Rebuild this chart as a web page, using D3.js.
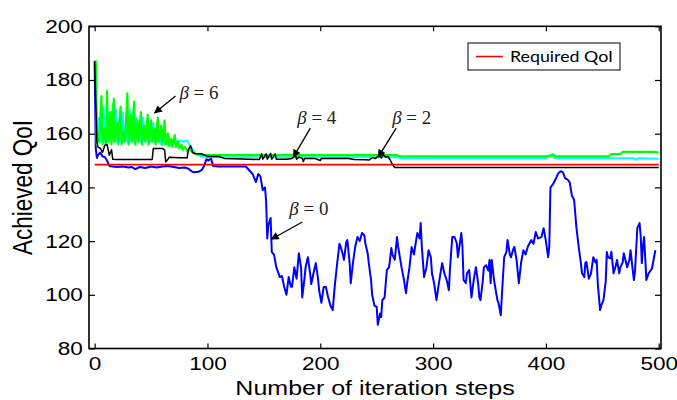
<!DOCTYPE html>
<html>
<head>
<meta charset="utf-8">
<script src="https://cdn.jsdelivr.net/npm/d3@7"></script>
<style>
body { margin: 0; background: #fff; }
</style>
</head>
<body>
<div id="chart"></div>
<script>
const xTicks = [0, 100, 200, 300, 400, 500];
const yTicks = [80, 100, 120, 140, 160, 180, 200];

// [iteration step, achieved QoI]
const requiredQoI = [[0, 148.5], [500, 148.5]];

const beta0 = [[0,187],[1,154.5],[2,151],[3,152],[5,153],[7,151.5],[9,151.3],[11,150],[13,148],[16,147.8],[20,147.6],[25,147.8],[30,147.4],[33,147.6],[36,146.8],[40,147.6],[45,147.2],[50,147.8],[55,147.4],[60,147.8],[65,148],[70,147.6],[75,147.2],[80,147.4],[83,147],[86,146],[88,145.6],[92,145.8],[95,146.5],[97,148],[99,150.5],[101,150],[103,151],[105,148],[110,147.8],[120,147.8],[130,147.8],[134,147.8],[137,146.4],[140,145],[143,142],[145,145],[147,144],[149,139],[151,140],[152,135],[153,121],[154,126],[156,128.6],[157,116],[159,115],[161,110.3],[163,108],[164,106.6],[166,107],[168,103],[170,100],[172,106.6],[174,103],[175,103],[177,110.3],[179,106],[181,115.5],[183,110],[184,99],[186,106],[187,110.3],[189,114],[191,108],[192,104],[194,108],[196,111.8],[198,106],[199,101.7],[201,97],[203,102.9],[205,102.9],[207,99],[209,96],[211,94.3],[213,104],[215,111.8],[217,119],[218,118],[220,115],[221,113],[223,119.6],[224,120.4],[226,112],[227,104.3],[229,112],[231,118],[233,121.5],[235,120],[237,123],[239,122.2],[240,119],[242,115.5],[243,111.8],[245,105.5],[246,99.9],[248,96],[250,95.5],[251,88.8],[253,93],[254,91.7],[255,98],[257,99],[259,109.2],[261,110.3],[263,117.4],[264,115],[266,113],[268,121.5],[269,118],[272,110.3],[274,106],[276,100.6],[277,104.3],[279,110],[281,117.8],[283,115],[286,123],[288,121],[289,126.7],[290,118],[292,106.6],[294,110],[296,116.6],[298,114],[299,108],[301,104],[303,98],[305,104],[308,111.8],[310,108],[312,105.5],[314,101.7],[315,110],[317,121.5],[319,121.5],[321,119.2],[322,114],[325,123],[326,118],[327,105.5],[329,104.3],[330,108],[332,109.2],[334,99],[336,105.5],[338,110.3],[340,104],[341,99],[342,98],[344,105],[345,110.3],[347,111],[349,109],[350,113],[351,104.3],[352,113],[354,105.5],[357,98],[358,97],[360,92.4],[361,100],[363,114],[365,116],[366,120.4],[368,115],[369,114],[371,117],[372,117.8],[374,113],[376,104.3],[378,112],[380,116.6],[382,115],[384,118],[387,120.4],[389,119],[391,123.4],[393,121],[396,121.5],[398,124.8],[400,120],[402,114],[403,118],[404,140],[406,141],[409,143.4],[411,145.3],[413,146],[415,145.7],[417,143.4],[419,143],[421,142],[423,137],[425,135.3],[427,125.2],[429,118],[431,111.8],[432,108],[434,106.6],[435,112],[436,112.2],[438,106],[440,108],[442,114],[444,112],[445,113],[446,104],[448,94.3],[449,96],[451,98],[453,105],[454,115.9],[455,114],[457,113.6],[458,116],[460,108],[462,111],[463,113],[465,108],[466,110.3],[468,112],[469,115.5],[471,112],[472,110.3],[474,113],[475,116.6],[477,109],[478,105.5],[479,109],[481,124.8],[483,126.7],[484,122],[485,111.8],[486,118],[487,121.5],[488,114],[489,105.5],[491,108],[493,109.2],[494,109.8],[497,116.6]];

const beta2 = [[0,187],[2,157],[3,155],[5,154.6],[7,153],[9,155.7],[11,156],[13,152],[15,154],[16,150.5],[20,150.4],[30,150.4],[40,150.4],[51,150.4],[52,154.5],[60,154.5],[62,154],[63,149.5],[65,150.5],[66,151.2],[75,151],[82,151],[83,154],[85,155.5],[87,153],[89,152.5],[95,152.5],[98,152],[100,151.5],[110,151.5],[115,150.8],[130,150.6],[146,150.4],[148,152.5],[149,150.5],[152,152.5],[153,150.5],[156,152.7],[157,150.5],[160,152.5],[161,150.5],[170,150.5],[175,150.8],[178,152],[179,150.5],[181,151.3],[184,150.8],[185,149.6],[186,150.8],[195,150.8],[200,150],[201,150.8],[225,150.8],[230,150.4],[240,150.3],[243,150.2],[246,151],[249,150.8],[252,152],[254,151],[256,152.2],[258,151.3],[260,151.5],[262,150.2],[264,148.5],[266,147.4],[500,147.4]];

const beta4 = [[0,187],[1,186],[2,157],[4,166],[5,157],[8,170],[9,157],[13,168],[14,157],[16,171],[17,157],[19,169],[20,157],[22,166],[23,157],[25,168],[26,157],[28,165],[29,157],[31,169],[32,157],[34,168],[35,157],[37,166],[38,157],[40,163],[41,157],[43,166],[44,157],[46,163],[47,157],[49,162],[50,157],[52,164],[53,157],[55,160],[56,157],[58,161],[59,156],[61,160],[62,156],[64,159],[65,156],[67,158],[68,155.5],[70,158],[73,157],[76,157.5],[79,157],[82,157.5],[84,156],[87,154],[90,152.5],[95,151.5],[100,151.2],[268,151.2],[272,150.9],[400,150.9],[403,152],[406,152.3],[408,150.9],[478,150.9],[480,150.2],[482,150.9],[500,150.7]];

const beta6 = [[0,187],[1,187],[2,156],[3,160],[4,157],[6,174],[7,156],[9,162],[10,156],[11,176],[12,157],[14,168],[15,156],[17,173],[18,157],[20,164],[21,156],[23,170],[24,156],[26,161],[27,157],[29,175],[30,156],[32,167],[33,157],[35,172],[36,156],[38,165],[39,157],[41,168],[42,156],[44,163],[45,157],[47,167],[48,156],[50,165],[51,157],[53,162],[54,156],[56,166],[57,157],[59,163],[60,156],[62,165],[63,156],[65,160],[66,155.5],[68,158],[69,155],[71,159.5],[72,155],[74,157],[75,154.5],[77,156],[78,154],[80,155],[82,153.5],[84,154],[87,153],[90,152.5],[95,152],[268,152],[270,151.6],[405,151.6],[406,152.2],[409,151.6],[456,151.6],[458,152.4],[466,152.4],[468,153.2],[496,153.2],[500,153]];

// label position and arrow tail -> head, in data units
const annotations = [
  { value: '6', tx: 75.2, ty: 172.9, x0: 71.7, y0: 174.0, x1: 53.1, y1: 167.7 },
  { value: '4', tx: 179.6, ty: 163.6, x0: 191.2, y0: 162.1, x1: 176.1, y1: 151.3 },
  { value: '2', tx: 263.7, ty: 163.6, x0: 267.3, y0: 162.1, x1: 251.3, y1: 151.3 },
  { value: '0', tx: 172.6, ty: 129.7, x0: 184.1, y0: 127.1, x1: 156.6, y1: 120.7 }
];

const width = 677, height = 400;
const plotLeft = 89, plotRight = 661, plotTop = 26.3, plotBottom = 348.5;
const stretch = 'scale(1.22,1)';

const svg = d3.select('#chart').append('svg')
  .attr('width', width)
  .attr('height', height)
  .style('font-family', '"Liberation Sans", Arial, sans-serif');

let xScale = d3.scaleLinear().domain([-5, 502]).range([plotLeft, plotRight]);
let yScale = d3.scaleLinear().domain([80, 200]).range([plotBottom, plotTop]);

let line = d3.line()
  .x(d => xScale(d[0]))
  .y(d => yScale(d[1]));

svg.append('defs').append('marker')
  .attr('id', 'arrowhead')
  .attr('viewBox', '0 0 10 10')
  .attr('refX', 9)
  .attr('refY', 5)
  .attr('markerWidth', 9)
  .attr('markerHeight', 8)
  .attr('markerUnits', 'userSpaceOnUse')
  .attr('orient', 'auto')
  .append('path')
  .attr('d', 'M0,0 L10,5 L0,10 z')
  .attr('fill', '#000');

const series = [
  { data: beta0, color: '#0000ff', w: 2 },
  { data: beta4, color: '#00ffff', w: 2 },
  { data: beta6, color: '#00ff00', w: 2.2 },
  { data: beta2, color: '#000000', w: 1.5 },
  { data: requiredQoI, color: '#ff0000', w: 1.6 }
];

series.forEach(s => {
  svg.append('path')
    .datum(s.data)
    .attr('d', line)
    .attr('fill', 'none')
    .attr('stroke', s.color)
    .attr('stroke-width', s.w)
    .attr('stroke-linejoin', 'round');
});

// axes, MATLAB style ticks pointing inward
svg.append('g')
  .attr('transform', 'translate(0,' + plotBottom + ')')
  .call(d3.axisBottom(xScale).tickValues(xTicks).tickSizeInner(-5).tickSizeOuter(0).tickPadding(8));

svg.append('g')
  .attr('transform', 'translate(' + plotLeft + ',0)')
  .call(d3.axisLeft(yScale).tickValues(yTicks).tickSizeInner(-6).tickSizeOuter(0).tickPadding(5));

svg.append('g')
  .attr('transform', 'translate(0,' + plotTop + ')')
  .call(d3.axisTop(xScale).tickValues(xTicks).tickSizeInner(-5).tickSizeOuter(0).tickFormat(''));

svg.append('g')
  .attr('transform', 'translate(' + plotRight + ',0)')
  .call(d3.axisRight(yScale).tickValues(yTicks).tickSizeInner(-6).tickSizeOuter(0).tickFormat(''));

svg.selectAll('.domain').remove();

svg.selectAll('.tick line')
  .attr('stroke', '#000')
  .attr('stroke-width', 1.2);

svg.selectAll('.tick text')
  .attr('fill', '#000')
  .style('font-family', '"Liberation Sans", Arial, sans-serif')
  .style('font-size', '18.5px')
  .attr('transform', stretch);

svg.append('rect')
  .attr('x', plotLeft)
  .attr('y', plotTop)
  .attr('width', plotRight - plotLeft)
  .attr('height', plotBottom - plotTop)
  .attr('fill', 'none')
  .attr('stroke', '#000')
  .attr('stroke-width', 1.6);

// axis titles
svg.append('text')
  .attr('transform', 'translate(' + ((plotLeft + plotRight) / 2) + ',395) ' + stretch)
  .attr('text-anchor', 'middle')
  .style('font-size', '20.5px')
  .text('Number of iteration steps');

svg.append('text')
  .attr('transform', 'translate(32,' + ((plotTop + plotBottom) / 2) + ') ' + stretch + ' rotate(-90)')
  .attr('text-anchor', 'middle')
  .style('font-size', '22.5px')
  .text('Achieved QoI');

// beta annotations
annotations.forEach(a => {
  svg.append('line')
    .attr('x1', xScale(a.x0))
    .attr('y1', yScale(a.y0))
    .attr('x2', xScale(a.x1))
    .attr('y2', yScale(a.y1))
    .attr('stroke', '#000')
    .attr('stroke-width', 1.3)
    .attr('marker-end', 'url(#arrowhead)');

  let t = svg.append('text')
    .attr('x', xScale(a.tx))
    .attr('y', yScale(a.ty))
    .attr('textLength', 39)
    .attr('lengthAdjust', 'spacingAndGlyphs')
    .style('font-family', '"Liberation Serif", "Times New Roman", serif')
    .style('font-size', '18px')
    .attr('fill', '#222');
  t.append('tspan').style('font-style', 'italic').text('β');
  t.append('tspan').text(' = ' + a.value);
});

// legend
const legend = svg.append('g');
legend.append('rect')
  .attr('x', 468).attr('y', 43)
  .attr('width', 152).attr('height', 27)
  .attr('fill', '#fff')
  .attr('stroke', '#000')
  .attr('stroke-width', 1);
legend.append('line')
  .attr('x1', 476).attr('x2', 503)
  .attr('y1', 56.5).attr('y2', 56.5)
  .attr('stroke', '#ff0000')
  .attr('stroke-width', 1.5);
legend.append('text')
  .attr('x', 510).attr('y', 62)
  .attr('textLength', 103)
  .attr('lengthAdjust', 'spacingAndGlyphs')
  .style('font-family', 'Lato, "Open Sans", sans-serif')
  .style('font-size', '16px')
  .text('Required QoI');
</script>
</body>
</html>
